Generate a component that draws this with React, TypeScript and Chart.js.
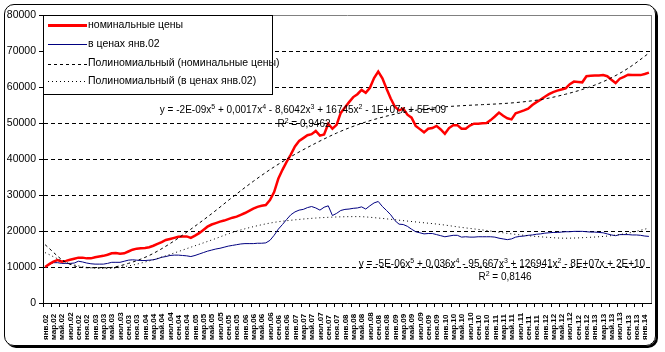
import React, { useEffect, useRef } from 'react';
import { Chart, registerables } from 'chart.js';

Chart.register(...registerables);

const MONTHS = ['янв', 'фев', 'мар', 'апр', 'май', 'июн', 'июл', 'авг', 'сен', 'окт', 'ноя', 'дек'];
const FIRST_YEAR = 2002;
const MONTH_COUNT = 146; // янв.02 … фев.14

const categories: string[] = [];
for (let i = 0; i < MONTH_COUNT; i++) {
  const yy = String((FIRST_YEAR + Math.floor(i / 12)) % 100).padStart(2, '0');
  categories.push(`${MONTHS[i % 12]}.${yy}`);
}

// номинальные цены (monthly)
const nominal = [
  10000, 10800, 11500, 11900, 11500, 11700, 12000, 12300, 12600, 12600, 12400, 12400,
  12700, 12900, 13100, 13400, 13800, 13900, 13700, 13800, 14300, 14800, 15100, 15200,
  15300, 15500, 15900, 16400, 16900, 17500, 17800, 18100, 18400, 18500, 18500, 18100,
  18700, 19400, 20300, 21200, 21800, 22200, 22600, 22900, 23300, 23700, 24000, 24500,
  25000, 25600, 26200, 26700, 27000, 27200, 28600, 30800, 34500, 37000, 39200, 41200,
  43500, 45000, 45800, 46600, 46900, 47800, 46500, 46800, 49800, 48400, 49500, 52800,
  54300, 55800, 57200, 58000, 59200, 58400, 59800, 62500, 64300, 62400, 59500, 56800,
  54500, 53500, 54000, 52300, 51500, 49200, 48300, 47400, 48400, 48600, 49200, 48200,
  47000, 48600, 49400, 49400, 48400, 48400, 49300, 49800, 49800, 49900, 50000, 50800,
  51800, 52900, 52000, 51300, 51000, 52700, 53100, 53500, 54000, 55000, 55800, 56500,
  57300, 58000, 58600, 59000, 59300, 59600, 60800, 61500, 61400, 61300, 63000, 63100,
  63200, 63200, 63300, 63000, 62000, 61100, 62300, 62800, 63400, 63300, 63300, 63300,
  63600, 64000,
];

// в ценах янв.02 (monthly)
const real = [
  10000, 10700, 11200, 11200, 11000, 11000, 11000, 11100, 11600, 11400, 11100, 10900,
  10800, 10800, 10800, 11000, 11300, 11300, 11300, 11600, 11900, 12000, 11900, 11800,
  11800, 11900, 12000, 12300, 12700, 12900, 13200, 13300, 13300, 13200, 13100, 12900,
  13200, 13600, 14000, 14400, 14700, 15000, 15200, 15500, 15800, 16000, 16200, 16400,
  16500, 16500, 16500, 16600, 16600, 16700, 17400, 18800, 20500, 21800, 23200, 24500,
  25300, 25800, 26000, 26500, 26800, 26400, 25800, 26600, 27000, 24300, 24900, 25700,
  26000, 26100, 26300, 26400, 26700, 26100, 27000, 27800, 28200, 26800, 25700, 24500,
  22900, 21900, 21800, 21300, 20500, 19800, 19500, 19200, 19300, 19300, 19000, 18700,
  18400, 18600, 18800, 18800, 18300, 18400, 18300, 18300, 18400, 18400, 18400, 18400,
  18300, 18000, 17800, 17600, 17800, 18300, 18500, 18600, 18800, 18900, 19100, 19200,
  19400, 19500, 19600, 19600, 19700, 19800, 19800, 19900, 19900, 19900, 19800, 19700,
  19700, 19600, 19500, 19200, 18900, 18700, 19000, 19000, 19000, 18900, 18900, 18800,
  18600, 18500,
];

// polynomial trendlines every 5 months
const trendIndex = [0, 5, 10, 15, 20, 25, 30, 35, 40, 45, 50, 55, 60, 65, 70, 75, 80, 85, 90, 95, 100, 105, 110, 115, 120, 125, 130, 135, 140, 145];
const nominalTrend = [16200, 11300, 9800, 9800, 11000, 13200, 16500, 20500, 24800, 29400, 33800, 37800, 41300, 44400, 47200, 49500, 51300, 52700, 53700, 54400, 54800, 55100, 55400, 55900, 56700, 58000, 59700, 62000, 65200, 69400];
const realTrend = [14000, 11300, 9900, 9600, 10300, 11700, 13500, 15500, 17500, 19600, 21200, 22400, 23100, 23600, 23900, 24000, 23600, 23000, 22400, 21800, 21000, 20300, 19500, 18800, 18300, 18000, 18200, 18600, 19400, 20800];

const Y_TICKS = [0, 10000, 20000, 30000, 40000, 50000, 60000, 70000, 80000];

const LEGEND_LABELS = [
  'номинальные цены',
  'в ценах янв.02',
  'Полиномиальный (номинальные цены)',
  'Полиномиальный (в ценах янв.02)',
];
const EQ_NOMINAL = 'y = -2E-09x⁵ + 0,0017x⁴ - 8,6042x³ + 16745x² - 1E+07x + 5E+09';
const R2_NOMINAL = 'R² = 0,9462';
const EQ_REAL = 'y = -5E-06x⁵ + 0,036x⁴ - 95,667x³ + 126941x² - 8E+07x + 2E+10';
const R2_REAL = 'R² = 0,8146';

const FONT = '"Liberation Sans", Arial, sans-serif';
const SUP: Record<string, string> = { '⁵': '5', '⁴': '4', '³': '3', '²': '2' };

function sparse(idx: number[], vals: number[]): (number | null)[] {
  const out: (number | null)[] = new Array(MONTH_COUNT).fill(null);
  idx.forEach((k, j) => { out[k] = vals[j]; });
  return out;
}

function drawRich(ctx: CanvasRenderingContext2D, text: string, cx: number, cy: number) {
  const normal = `10px ${FONT}`;
  const small = `7px ${FONT}`;
  const parts: { t: string; sup: boolean }[] = [];
  for (const ch of text) {
    const sup = ch in SUP;
    const t = sup ? SUP[ch] : ch;
    const last = parts[parts.length - 1];
    if (last && last.sup === sup) last.t += t;
    else parts.push({ t, sup });
  }
  let total = 0;
  const widths = parts.map((p) => {
    ctx.font = p.sup ? small : normal;
    const w = ctx.measureText(p.t).width;
    total += w;
    return w;
  });
  let x = cx - total / 2;
  ctx.textAlign = 'left';
  ctx.textBaseline = 'alphabetic';
  parts.forEach((p, i) => {
    ctx.font = p.sup ? small : normal;
    ctx.fillText(p.t, x, p.sup ? cy - 0.5 : cy + 3.5);
    x += widths[i];
  });
}

const overlayPlugin = {
  id: 'overlay',
  afterDraw(chart: any) {
    const ctx = chart.ctx as CanvasRenderingContext2D;
    const a = chart.chartArea;
    const xs = chart.scales.x;
    ctx.save();
    // right border of plot area
    ctx.strokeStyle = '#808080';
    ctx.lineWidth = 1;
    ctx.setLineDash([]);
    ctx.beginPath();
    ctx.moveTo(Math.round(a.right) + 0.5, a.top);
    ctx.lineTo(Math.round(a.right) + 0.5, a.bottom);
    ctx.stroke();

    // category labels (every second month), rotated, reading upward from the bottom
    ctx.fillStyle = '#000';
    ctx.font = `bold 8px ${FONT}`;
    ctx.textAlign = 'left';
    ctx.textBaseline = 'middle';
    for (let i = 0; i < categories.length; i += 2) {
      const px = xs.getPixelForTick(i);
      ctx.save();
      ctx.translate(px + 0.5, a.bottom + 37);
      ctx.rotate(-Math.PI / 2);
      ctx.fillText(categories[i], 0, 0);
      ctx.restore();
    }

    // equations
    ctx.fillStyle = '#000';
    drawRich(ctx, EQ_NOMINAL, 303, 109);
    drawRich(ctx, R2_NOMINAL, 304, 123);
    drawRich(ctx, EQ_REAL, 502, 263);
    drawRich(ctx, R2_REAL, 505, 276);

    // legend box
    const lx = Math.round(a.left) + 0.5;
    const ly = Math.round(a.top) + 0.5;
    ctx.fillStyle = '#fff';
    ctx.fillRect(lx, ly, 229, 79);
    ctx.strokeStyle = '#000';
    ctx.lineWidth = 1;
    ctx.strokeRect(lx, ly, 229, 79);
    const rows = [25, 44, 63.5, 81];
    const styles = [
      { c: '#ff0000', w: 3, d: [] as number[] },
      { c: '#000080', w: 1, d: [] as number[] },
      { c: '#000', w: 1, d: [3, 3] },
      { c: '#000', w: 1, d: [1, 3] },
    ];
    rows.forEach((y, i) => {
      const s = styles[i];
      ctx.strokeStyle = s.c;
      ctx.lineWidth = s.w;
      ctx.setLineDash(s.d);
      ctx.beginPath();
      ctx.moveTo(48, Math.round(y) + (s.w % 2 ? 0.5 : 0));
      ctx.lineTo(87, Math.round(y) + (s.w % 2 ? 0.5 : 0));
      ctx.stroke();
      ctx.setLineDash([]);
      ctx.fillStyle = '#000';
      ctx.textAlign = 'left';
      ctx.textBaseline = 'middle';
      ctx.font = `10.5px ${FONT}`;
      ctx.fillText(LEGEND_LABELS[i], 88, y);
    });
    ctx.restore();
  },
};

export default function App() {
  const ref = useRef<HTMLCanvasElement | null>(null);

  useEffect(() => {
    const canvas = ref.current;
    if (!canvas) return;
    const chart = new Chart(canvas, {
      type: 'line',
      data: {
        labels: categories,
        datasets: [
          {
            label: LEGEND_LABELS[2],
            data: sparse(trendIndex, nominalTrend),
            borderColor: '#000',
            borderWidth: 1,
            borderDash: [3, 3],
            pointRadius: 0,
            spanGaps: true,
            cubicInterpolationMode: 'monotone',
            order: 0,
          },
          {
            label: LEGEND_LABELS[3],
            data: sparse(trendIndex, realTrend),
            borderColor: '#000',
            borderWidth: 1,
            borderDash: [1, 3],
            pointRadius: 0,
            spanGaps: true,
            cubicInterpolationMode: 'monotone',
            order: 0,
          },
          {
            label: LEGEND_LABELS[0],
            data: nominal,
            borderColor: '#ff0000',
            borderWidth: 2.5,
            pointRadius: 0,
            tension: 0,
            order: 1,
          },
          {
            label: LEGEND_LABELS[1],
            data: real,
            borderColor: '#000080',
            borderWidth: 1,
            pointRadius: 0,
            tension: 0,
            order: 1,
          },
        ],
      },
      options: {
        animation: false,
        responsive: false,
        maintainAspectRatio: false,
        layout: { padding: { left: 0, right: 14, top: 15, bottom: 0 } },
        plugins: { legend: { display: false }, tooltip: { enabled: false } },
        scales: {
          x: {
            type: 'category',
            offset: true,
            afterFit: (s: any) => { s.height = 49; },
            grid: {
              offset: true,
              drawOnChartArea: false,
              drawTicks: true,
              tickLength: 4,
              color: (c: any) => (c.index % 2 === 0 ? '#000' : 'rgba(0,0,0,0)'),
            },
            border: { display: true, color: '#000', width: 1 },
            ticks: {
              autoSkip: false,
              maxRotation: 90,
              minRotation: 90,
              color: 'rgba(0,0,0,0)',
              font: { family: FONT, size: 8 },
              callback: (_v: any, i: number) => (i % 2 === 0 ? categories[i] : ''),
            },
          },
          y: {
            min: 0,
            max: 80000,
            afterFit: (s: any) => { s.width = 43; },
            afterBuildTicks: (s: any) => { s.ticks = Y_TICKS.map((v) => ({ value: v })); },
            grid: {
              drawTicks: true,
              tickLength: 4,
              tickColor: '#000',
              tickBorderDash: [],
              color: (c: any) => {
                const v = c.tick ? c.tick.value : -1;
                if (v === 80000) return '#808080';
                if (v === 0) return 'rgba(0,0,0,0)';
                return '#000';
              },
            },
            border: {
              display: true,
              color: '#000',
              width: 1,
              dash: (c: any) => (c.tick && c.tick.value !== 80000 && c.tick.value !== 0 ? [4, 3] : []),
            },
            ticks: {
              padding: 3,
              color: '#000',
              font: { family: FONT, size: 10.5 },
              callback: (v: any) => String(v),
            },
          },
        },
      },
      plugins: [overlayPlugin],
    });
    return () => chart.destroy();
  }, []);

  return (
    <div style={{ position: 'absolute', left: 0, top: 0, width: 665, height: 352, background: '#fff' }}>
      <div
        style={{
          position: 'absolute',
          left: 4,
          top: 4,
          width: 652,
          height: 342,
          boxSizing: 'border-box',
          border: '1px solid #000',
          borderRadius: 10,
          boxShadow: '2px 2px 0 #000',
        }}
      />
      <canvas ref={ref} width={665} height={352} style={{ position: 'absolute', left: 0, top: 0, width: 665, height: 352 }} />
    </div>
  );
}
